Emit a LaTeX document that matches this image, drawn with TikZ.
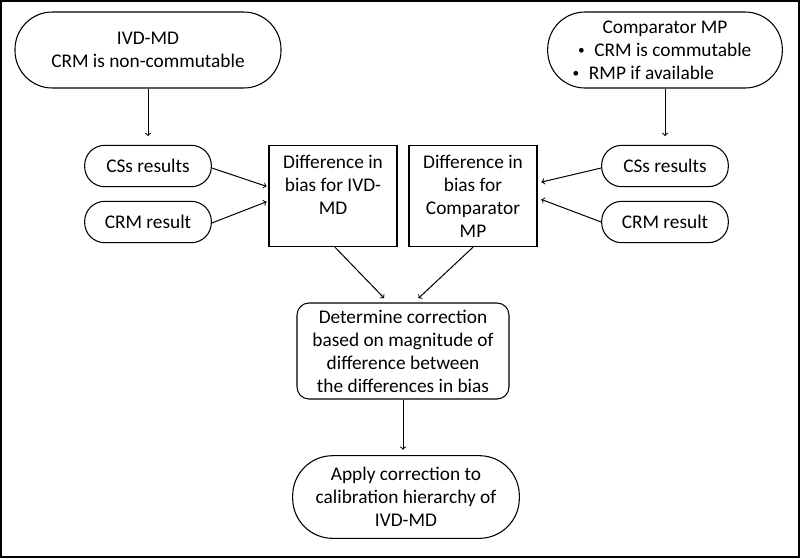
\documentclass[tikz,border=0pt]{standalone}
\usepackage{fontspec}
\setmainfont{Carlito}
\usepackage{tikz}

\newcommand{\itembullet}{\raisebox{1pt}{\fontsize{10pt}{10pt}\selectfont\textbullet}\hspace{0.5em}}

\begin{document}
\begin{tikzpicture}[x=0.75pt,y=-0.75pt]
		% Define box styles and arrow style
		\tikzset{
			txt/.style={font=\fontsize{14.5pt}{17.25pt}\selectfont, align=center, inner sep=0pt},
			pill/.style={txt, draw, line width=0.8pt, rounded corners=#1},
			sqbox/.style={txt, draw, line width=0.8pt, minimum width=96pt, minimum height=76pt},
			flow/.style={->, line width=0.75pt}
		}
		
		% Frame and bounding box
		\useasboundingbox (0,0) rectangle (800,558);
		\draw[line width=2pt] (1,1) rectangle (799,557);
		
		% Top boxes
		\node (ivd) at (148,50) [pill=28pt, minimum width=199.5pt, minimum height=57pt] {IVD-MD\\CRM is non-commutable};
		\node (cmp) at (665,50) [pill=28pt, minimum width=176pt, minimum height=57pt]
			{Comparator MP\\\makebox[9em][l]{\itembullet CRM is commutable}\hspace*{8pt}\\\makebox[9em][l]{\itembullet RMP if available}\hspace*{8pt}};
		
		% Result boxes, left and right
		\node (cssL) at (148,166) [pill=15pt, minimum width=95pt, minimum height=31pt] {CSs results};
		\node (crmL) at (148,222) [pill=15pt, minimum width=95pt, minimum height=31pt] {CRM result};
		\node (cssR) at (665,166) [pill=15pt, minimum width=95pt, minimum height=31pt] {CSs results};
		\node (crmR) at (665,222) [pill=15pt, minimum width=95pt, minimum height=31pt] {CRM result};
		
		% Difference in bias boxes
		\node (diffA) at (333,196) [sqbox] {Difference in\\bias for IVD-\\MD\\\mbox{}};
		\node (diffB) at (473,196) [sqbox] {Difference in\\bias for\\Comparator\\MP};
		
		% Correction boxes
		\node (det) at (403,351) [pill=9pt, minimum width=159pt, minimum height=72pt] {Determine correction\\based on magnitude of\\difference between\\the differences in bias};
		\node (apply) at (406,497) [pill=30pt, minimum width=170pt, minimum height=62pt] {Apply correction to\\calibration hierarchy of\\IVD-MD};
		
		% Draw the arrows
		\draw[flow, shorten >=6.5pt] (ivd) -- (cssL);
		\draw[flow, shorten >=6.5pt] (cmp) -- (cssR);
		\draw[flow, shorten >=1.5pt] ([yshift=-1.5pt]cssL.east) -- ([yshift=6.75pt]diffA.west);
		\draw[flow, shorten >=1.5pt] ([yshift=-0.75pt]crmL.east) -- ([yshift=-3.75pt]diffA.west);
		\draw[flow, shorten >=3pt] ([yshift=-1.5pt]cssR.west) -- ([yshift=9.75pt]diffB.east);
		\draw[flow, shorten >=3pt] (crmR.west) -- ([yshift=-1.5pt]diffB.east);
		\draw[flow, shorten >=4.5pt] ([xshift=1.5pt]diffA.south) -- ([xshift=-11pt]det.north);
		\draw[flow, shorten >=4.5pt] (diffB.south) -- ([xshift=8.25pt]det.north);
		\draw[flow, shorten >=4pt] (det.south) -- (det.south |- apply.north);
	\end{tikzpicture}
\end{document}
